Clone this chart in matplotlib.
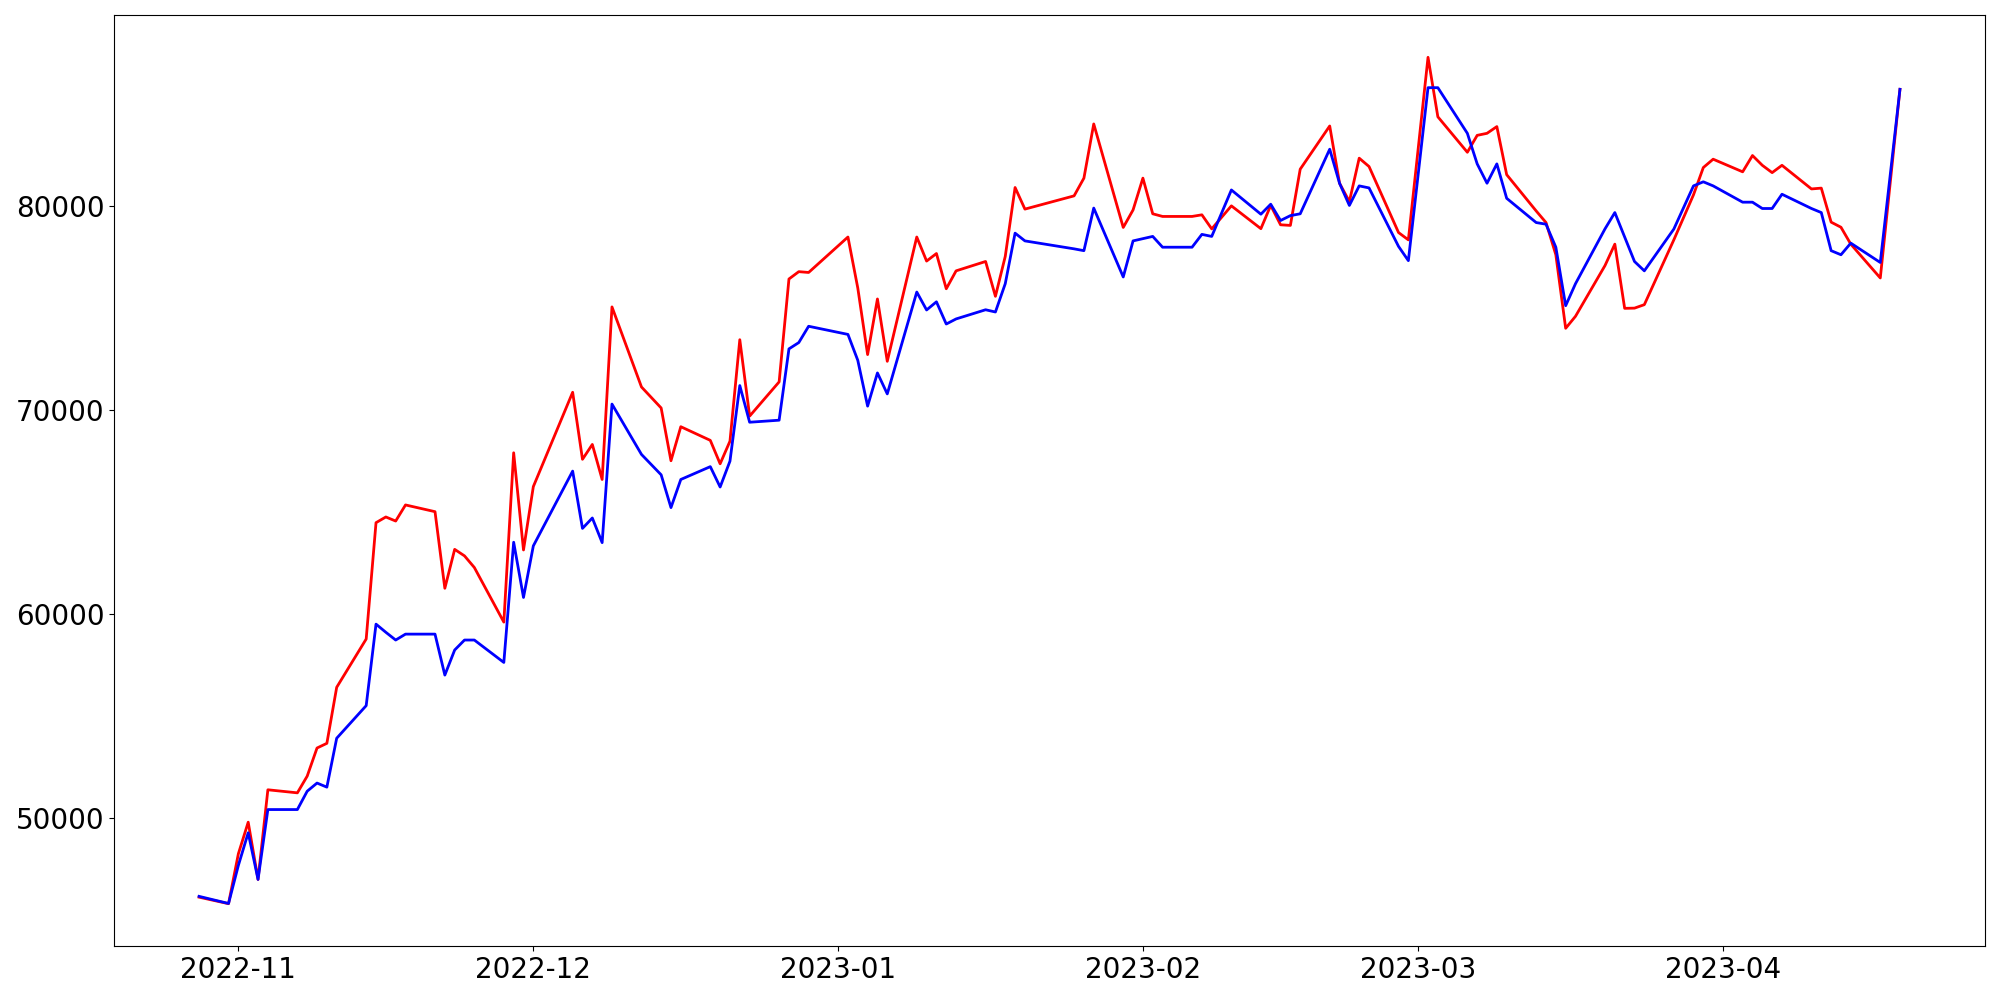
import numpy as np
import pandas as pd
import matplotlib
matplotlib.use("Agg")
import matplotlib.pyplot as plt
import matplotlib.dates as mdates

# values
dates = [
    "2022-10-28", "2022-10-31", "2022-11-01", "2022-11-02", "2022-11-03", "2022-11-04",
    "2022-11-07", "2022-11-08", "2022-11-09", "2022-11-10", "2022-11-11",
    "2022-11-14", "2022-11-15", "2022-11-16", "2022-11-17", "2022-11-18",
    "2022-11-21", "2022-11-22", "2022-11-23", "2022-11-24", "2022-11-25",
    "2022-11-28", "2022-11-29", "2022-11-30", "2022-12-01",
    "2022-12-05", "2022-12-06", "2022-12-07", "2022-12-08", "2022-12-09",
    "2022-12-12", "2022-12-14", "2022-12-15", "2022-12-16",
    "2022-12-19", "2022-12-20", "2022-12-21", "2022-12-22", "2022-12-23",
    "2022-12-26", "2022-12-27", "2022-12-28", "2022-12-29",
    "2023-01-02", "2023-01-03", "2023-01-04", "2023-01-05", "2023-01-06",
    "2023-01-09", "2023-01-10", "2023-01-11", "2023-01-12", "2023-01-13",
    "2023-01-16", "2023-01-17", "2023-01-18", "2023-01-19", "2023-01-20",
    "2023-01-25", "2023-01-26", "2023-01-27",
    "2023-01-30", "2023-01-31", "2023-02-01", "2023-02-02", "2023-02-03",
    "2023-02-06", "2023-02-07", "2023-02-08", "2023-02-10",
    "2023-02-13", "2023-02-14", "2023-02-15", "2023-02-16", "2023-02-17",
    "2023-02-20", "2023-02-21", "2023-02-22", "2023-02-23", "2023-02-24",
    "2023-02-27", "2023-02-28", "2023-03-02", "2023-03-03",
    "2023-03-06", "2023-03-07", "2023-03-08", "2023-03-09", "2023-03-10",
    "2023-03-13", "2023-03-14", "2023-03-15", "2023-03-16", "2023-03-17",
    "2023-03-20", "2023-03-21", "2023-03-22", "2023-03-23", "2023-03-24",
    "2023-03-27", "2023-03-29", "2023-03-30", "2023-03-31",
    "2023-04-03", "2023-04-04", "2023-04-05", "2023-04-06", "2023-04-07",
    "2023-04-10", "2023-04-11", "2023-04-12", "2023-04-13", "2023-04-14",
    "2023-04-17", "2023-04-19",
]

red_values = [
    46100, 45780, 48230, 49780, 46970, 51370,
    51220, 52040, 53420, 53650, 56400,
    58770, 64480, 64760, 64560, 65350,
    65020, 61260, 63170, 62850, 62280,
    59600, 67910, 63140, 66250,
    70880, 67590, 68320, 66600, 75070,
    71140, 70110, 67520, 69190,
    68520, 67370, 68480, 73460, 69710,
    71390, 76440, 76800, 76760,
    78500, 76000, 72730, 75460, 72400,
    78500, 77320, 77690, 75960, 76840,
    77300, 75590, 77550, 80930, 79870,
    80520, 81390, 84050,
    78970, 79830, 81390, 79640, 79510,
    79510, 79590, 78900, 80030,
    78910, 80050, 79100, 79070, 81830,
    83950, 81140, 80240, 82370, 81960,
    78720, 78360, 87320, 84400,
    82660, 83490, 83590, 83920, 81560,
    79780, 79210, 77630, 74020, 74610,
    77100, 78150, 75000, 75010, 75180,
    78360, 80570, 81910, 82320,
    81700, 82500, 82020, 81660, 82020,
    80860, 80900, 79230, 78980, 78150,
    76490, 85750,
]

blue_values = [
    46140, 45790, 47660, 49260, 46970, 50400,
    50400, 51300, 51700, 51500, 53900,
    55500, 59500, 59100, 58720, 59010,
    59010, 57000, 58230, 58720, 58720,
    57620, 63520, 60810, 63340,
    67010, 64200, 64710, 63500, 70300,
    67830, 66830, 65220, 66600,
    67230, 66230, 67500, 71210, 69410,
    69510, 73010, 73320, 74120,
    73720, 72450, 70200, 71830, 70800,
    75800, 74920, 75320, 74230, 74480,
    74930, 74820, 76210, 78690, 78310,
    77920, 77830, 79920,
    76540, 78310, 78420, 78530, 78000,
    78000, 78630, 78530, 80810,
    79620, 80110, 79310, 79550, 79640,
    82810, 81140, 80050, 81010, 80910,
    78040, 77340, 85830, 85830,
    83590, 82090, 81140, 82090, 80400,
    79210, 79130, 78000, 75130, 76210,
    78900, 79700, 78500, 77300, 76840,
    78890, 81010, 81210, 81010,
    80210, 80210, 79900, 79900, 80600,
    79900, 79700, 77830, 77630, 78200,
    77250, 85750,
]

x = pd.to_datetime(dates)

fig, ax = plt.subplots(figsize=(20, 10), dpi=100)
ax.plot(x, red_values, color='red', linewidth=2)
ax.plot(x, blue_values, color='blue', linewidth=2)

ax.xaxis.set_major_locator(mdates.MonthLocator())
ax.xaxis.set_major_formatter(mdates.DateFormatter('%Y-%m'))
ax.tick_params(axis='both', labelsize=20)

fig.subplots_adjust(left=0.057, right=0.9925, top=0.985, bottom=0.054)
plt.savefig("out.png", dpi=100)
